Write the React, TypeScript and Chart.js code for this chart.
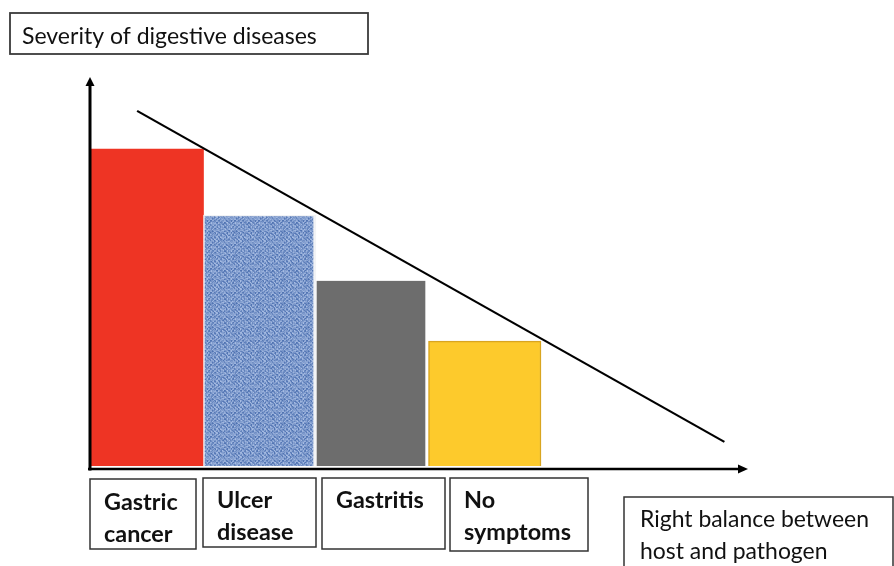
import React, { useEffect, useRef } from 'react';
import { Chart, registerables } from 'chart.js';
Chart.register(...registerables);

// ---- data ----
const categories = ['Gastric cancer', 'Ulcer disease', 'Gastritis', 'No symptoms'];
const categoryLines = [['Gastric', 'cancer'], ['Ulcer', 'disease'], ['Gastritis'], ['No', 'symptoms']];
const categoryPositions = [0.5, 1.5, 2.5, 3.5];
const severity = [81.5, 64.5, 47.6, 32.1];
const trendX = [0.41, 5.63];
const trendY = [91.3, 6.2];
const yAxisTitle = 'Severity of digestive diseases';
const xAxisTitle = ['Right balance between', 'host and pathogen'];
const xAxisEnd = 5.84;
const yAxisEnd = 100;

// ---- styles / layout ----
const FONT = 'Lato, "Open Sans", "Liberation Sans", sans-serif';
const labelBoxes = [
  { l: 90, t: 479, r: 196, b: 549, tx: 104, lines: [510, 542] },
  { l: 203, t: 478, r: 316, b: 547, tx: 217, lines: [508, 540] },
  { l: 322, t: 478, r: 445, b: 549, tx: 336, lines: [508] },
  { l: 450, t: 478, r: 588, b: 551, tx: 464, lines: [508, 540] },
];

function makeWeave(): CanvasPattern | string {
  const c = document.createElement('canvas');
  const S = 24;
  c.width = S; c.height = S;
  const g = c.getContext('2d');
  if (!g) return '#7396cb';
  const img = g.createImageData(S, S);
  for (let yy = 0; yy < S; yy++) {
    for (let xx = 0; xx < S; xx++) {
      let h = (Math.imul(xx + 17, 374761393) ^ Math.imul(yy + 31, 668265263)) >>> 0;
      h = Math.imul(h ^ (h >>> 13), 1274126177) >>> 0;
      const noise = ((h >>> 8) & 255) / 255;
      const weave = (((xx >> 1) + (yy >> 1)) % 2 === 0) ? 0.65 : 0.3;
      const t = Math.min(1, Math.max(0, weave * 0.6 + noise * 0.5 - 0.05));
      const i = (yy * S + xx) * 4;
      img.data[i] = Math.round(62 + t * (190 - 62));
      img.data[i + 1] = Math.round(100 + t * (208 - 100));
      img.data[i + 2] = Math.round(168 + t * (240 - 168));
      img.data[i + 3] = 255;
    }
  }
  g.putImageData(img, 0, 0);
  const p = g.createPattern(c, 'repeat');
  return p || '#7396cb';
}

function fitSize(ctx: CanvasRenderingContext2D, text: string, width: number, weight: string) {
  ctx.font = `${weight} 20px ${FONT}`;
  const w = ctx.measureText(text).width;
  return 20 * width / w;
}

const overlay = {
  id: 'overlay',
  afterDatasetsDraw(chart: any) {
    const { ctx, scales: { x, y } } = chart;
    const x0 = x.getPixelForValue(0) - 1;
    const y0 = y.getPixelForValue(0) + 3;
    const yTop = y.getPixelForValue(yAxisEnd);
    const xEnd = x.getPixelForValue(xAxisEnd);
    ctx.save();
    ctx.strokeStyle = '#000';
    ctx.fillStyle = '#000';
    ctx.lineWidth = 3;
    ctx.beginPath();
    ctx.moveTo(x0, y0 + 1.5);
    ctx.lineTo(x0, yTop + 7);
    ctx.stroke();
    ctx.beginPath();
    ctx.moveTo(x0, yTop);
    ctx.lineTo(x0 - 4.5, yTop + 9);
    ctx.lineTo(x0 + 4.5, yTop + 9);
    ctx.closePath();
    ctx.fill();
    ctx.lineWidth = 2.5;
    ctx.beginPath();
    ctx.moveTo(x0 - 2, y0);
    ctx.lineTo(xEnd - 7, y0);
    ctx.stroke();
    ctx.beginPath();
    ctx.moveTo(xEnd, y0);
    ctx.lineTo(xEnd - 10, y0 - 4.5);
    ctx.lineTo(xEnd - 10, y0 + 4.5);
    ctx.closePath();
    ctx.fill();
    ctx.restore();
  },
  afterDraw(chart: any) {
    const { ctx } = chart;
    ctx.save();
    // y axis title box
    ctx.strokeStyle = '#3a3a3a';
    ctx.lineWidth = 1.8;
    ctx.strokeRect(10, 13, 358, 41);
    ctx.fillStyle = '#111';
    ctx.textBaseline = 'alphabetic';
    const tSize = fitSize(ctx, yAxisTitle, 295, 'normal');
    ctx.font = `normal ${tSize}px ${FONT}`;
    ctx.fillText(yAxisTitle, 22, 44);

    // category label boxes
    const bSize = fitSize(ctx, 'symptoms', 107, 'bold');
    categoryLines.forEach((lines, i) => {
      const b = labelBoxes[i];
      ctx.strokeStyle = '#333';
      ctx.lineWidth = 1.5;
      ctx.strokeRect(b.l, b.t, b.r - b.l, b.b - b.t);
      ctx.fillStyle = '#111';
      ctx.font = `bold ${bSize}px ${FONT}`;
      lines.forEach((ln, j) => ctx.fillText(ln, b.tx, b.lines[j]));
    });

    // x axis title box
    ctx.strokeStyle = '#333';
    ctx.lineWidth = 1.5;
    ctx.beginPath();
    ctx.moveTo(624, 570);
    ctx.lineTo(624, 497);
    ctx.lineTo(893, 497);
    ctx.lineTo(893, 570);
    ctx.stroke();
    const rSize = fitSize(ctx, xAxisTitle[0], 229, 'normal');
    ctx.font = `normal ${rSize}px ${FONT}`;
    ctx.fillStyle = '#111';
    ctx.fillText(xAxisTitle[0], 640, 527);
    ctx.fillText(xAxisTitle[1], 640, 559);
    ctx.restore();
  },
};

export default function App() {
  const ref = useRef<HTMLCanvasElement | null>(null);
  useEffect(() => {
    if (!ref.current) return;
    const weave = makeWeave();
    const chart = new Chart(ref.current, {
      type: 'bar',
      data: {
        labels: categories,
        datasets: [
          {
            type: 'bar',
            label: 'Severity',
            data: categoryPositions.map((p, i) => ({ x: p, y: severity[i] })),
            backgroundColor: ['#ee3424', weave, '#6d6d6d', '#fdca2c'],
            borderColor: ['#ee3424', '#f2f3f5', '#ffffff', '#d9a520'],
            borderWidth: [
              0,
              { top: 1.5, left: 1.5, right: 3, bottom: 0 },
              { top: 0, left: 1, right: 3.5, bottom: 0 },
              1.5,
            ],
            categoryPercentage: 1,
            barPercentage: 1,
            order: 2,
          } as any,
          {
            type: 'line',
            label: 'Trend',
            data: trendX.map((v, i) => ({ x: v, y: trendY[i] })),
            borderColor: '#000',
            borderWidth: 2.2,
            pointRadius: 0,
            fill: false,
            order: 1,
          } as any,
        ],
      },
      options: {
        animation: false,
        responsive: false,
        devicePixelRatio: 1,
        layout: { padding: { left: 91, right: 128, top: 77, bottom: 100 } },
        plugins: { legend: { display: false }, tooltip: { enabled: false } },
        scales: {
          x: { type: 'linear', min: 0, max: 6, offset: false, display: false, ticks: { stepSize: 1 } },
          y: { type: 'linear', min: 0, max: yAxisEnd, display: false },
        },
      },
      plugins: [overlay],
    });
    return () => chart.destroy();
  }, []);
  return (
    <div style={{ position: 'fixed', left: 0, top: 0, width: 894, height: 566, background: '#fff' }}>
      <canvas ref={ref} width={894} height={566} style={{ display: 'block' }} />
    </div>
  );
}
